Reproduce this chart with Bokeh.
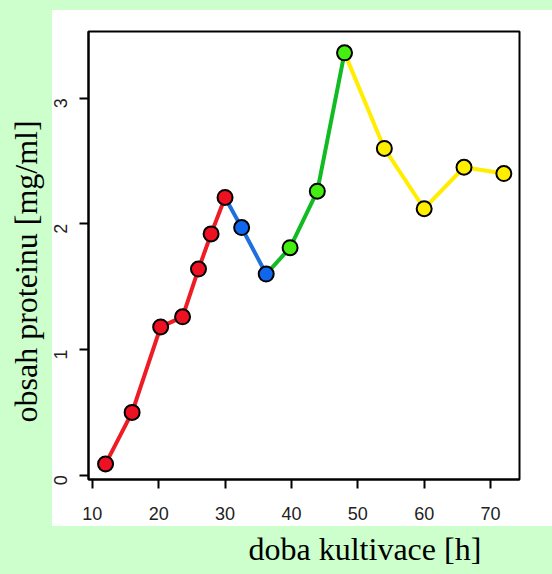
from math import pi
from bokeh.plotting import figure
from bokeh.models import Range1d, Title, FixedTicker
from bokeh.embed import file_html
from bokeh.resources import INLINE

# ---- data ----
red_x = [12, 16, 20.3, 23.6, 26, 27.9, 30]
red_y = [0.09, 0.50, 1.18, 1.26, 1.64, 1.92, 2.21]
blue_x = [32.5, 36.2]
blue_y = [1.97, 1.60]
green_x = [39.8, 43.9, 48]
green_y = [1.81, 2.26, 3.36]
yellow_x = [54, 60, 66, 72]
yellow_y = [2.60, 2.12, 2.45, 2.40]
x_ticks = [10, 20, 30, 40, 50, 60, 70]
y_ticks = [0, 1, 2, 3]
x_title = "doba kultivace [h]"
y_title = "obsah proteinu [mg/ml]"

BG = "#ccffcc"

p = figure(width=552, height=574, output_backend="svg", toolbar_location=None,
           x_range=Range1d(9.43, 74.36), y_range=Range1d(-0.034, 3.53),
           min_border_left=88, min_border_right=33, min_border_top=31, min_border_bottom=95)
p.grid.visible = False
p.background_fill_color = "white"
p.border_fill_color = None
p.styles = {
    "background-color": BG,
    "background-image": "linear-gradient(#ffffff, #ffffff)",
    "background-position": "52px 10px",
    "background-size": "500px 516px",
    "background-repeat": "no-repeat",
}
p.outline_line_color = "black"
p.outline_line_width = 2

for ax in p.axis:
    ax.axis_line_color = "black"
    ax.axis_line_width = 2
    ax.major_tick_out = 9
    ax.major_tick_in = 0
    ax.major_tick_line_width = 2
    ax.major_tick_line_color = "black"
    ax.minor_tick_line_color = None
    ax.major_label_text_font = "Liberation Sans"
    ax.major_label_text_font_size = "18px"
    ax.major_label_text_color = "#222222"

p.xaxis.ticker = FixedTicker(ticks=x_ticks)
p.yaxis.ticker = FixedTicker(ticks=y_ticks)
p.xaxis.major_label_standoff = 18
p.yaxis.major_label_standoff = 19
p.yaxis.major_label_orientation = pi / 2

# line segments
segs = [
    (red_x, red_y, "#ee1c24"),
    ([red_x[-1]] + blue_x, [red_y[-1]] + blue_y, "#1f6fe0"),
    ([blue_x[-1]] + green_x, [blue_y[-1]] + green_y, "#11bb22"),
    ([green_x[-1]] + yellow_x, [green_y[-1]] + yellow_y, "#ffee00"),
]
for xs, ys, c in segs:
    p.line(xs, ys, line_color=c, line_width=4)

pts = [
    (red_x, red_y, "#ee1122"),
    (blue_x, blue_y, "#1166ee"),
    (green_x, green_y, "#44ee11"),
    (yellow_x, yellow_y, "#ffee00"),
]
for xs, ys, c in pts:
    p.scatter(xs, ys, size=15, fill_color=c, line_color="black", line_width=2)

p.add_layout(Title(text=x_title, align="left", offset=160, standoff=13,
                   text_font="Liberation Serif", text_font_size="32px",
                   text_font_style="normal", text_color="black"), "below")
p.add_layout(Title(text=y_title, align="left", offset=57, standoff=2,
                   text_font="Liberation Serif", text_font_size="32px",
                   text_font_style="normal", text_color="black"), "left")

open("out.html", "w").write(file_html(p, INLINE))
